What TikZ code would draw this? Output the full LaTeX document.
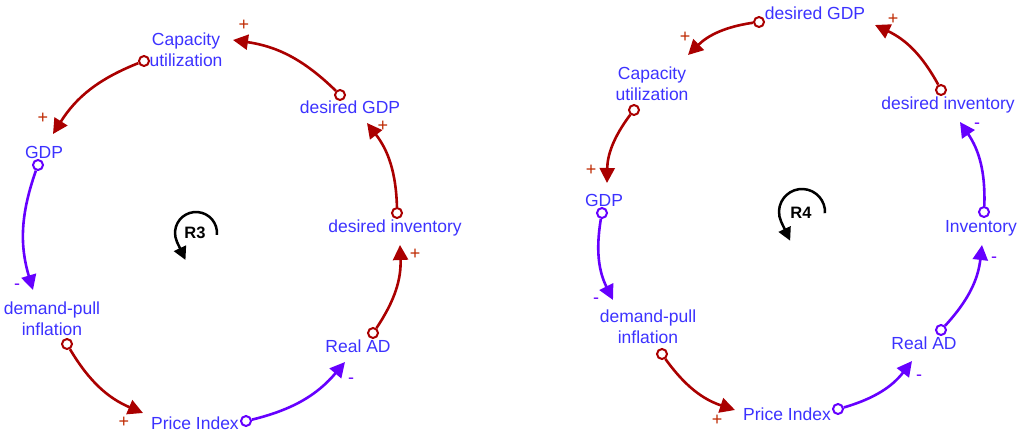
\documentclass[tikz,border=0pt]{standalone}
\usepackage{fontspec}
\setmainfont{Liberation Sans}
\usetikzlibrary{arrows.meta}

\definecolor{linkred}{RGB}{170,0,0}
\definecolor{linkviolet}{RGB}{102,0,255}
\definecolor{varblue}{RGB}{60,50,255}
\definecolor{plusred}{RGB}{190,40,0}

\begin{document}
\begin{tikzpicture}[x=1pt,y=-1pt,
  var/.style={text=varblue, font=\fontsize{17.5}{21}\selectfont, align=center, inner sep=0pt},
  tailbase/.style={circle, fill=white, line width=2pt, minimum size=10pt, inner sep=0pt},
  redtail/.style={tailbase, draw=linkred},
  violettail/.style={tailbase, draw=linkviolet},
  linkbase/.style={line width=2.6pt, -{Triangle[length=15pt,width=15pt]}, bend right=18},
  redlink/.style={linkbase, draw=linkred},
  violetlink/.style={linkbase, draw=linkviolet},
  plus/.style={text=plusred, font=\fontsize{18}{18}\selectfont, inner sep=0pt},
  minus/.style={text=linkviolet, font=\fontsize{18}{18}\selectfont, inner sep=0pt},
  looplabel/.style={font=\fontsize{16.5}{16}\selectfont\bfseries, inner sep=0pt},
  loopline/.style={line width=2.5pt, -{Triangle[length=13pt,width=13pt]}}
]
\useasboundingbox (0,0) rectangle (1017,431);

% ---------------- Loop R3 ----------------
\node[var] (lcap)  at (186,50)  {Capacity\\utilization};
\node[var] (ldgdp) at (350,107) {desired GDP};
\node[var] (lgdp)  at (44,152)  {GDP};
\node[var] (ldpi)  at (52,319)  {demand-pull\\inflation};
\node[var] (lpi)   at (195,423) {Price Index};
\node[var] (lrad)  at (358,346) {Real AD};
\node[var] (ldinv) at (395,228) {desired inventory};

\coordinate (lcap-h)  at (233,40);
\coordinate (lgdp-h)  at (53,134);
\coordinate (ldpi-h)  at (33,290);
\coordinate (lpi-h)   at (143,413);
\coordinate (lrad-h)  at (345,362);
\coordinate (ldinv-h) at (400,245);
\coordinate (ldgdp-h) at (367,123);

\node[redtail]    (ldgdp-t) at (340,95)  {};
\node[redtail]    (lcap-t)  at (144,61)  {};
\node[violettail] (lgdp-t)  at (38,165)  {};
\node[redtail]    (ldpi-t)  at (67,344)  {};
\node[violettail] (lpi-t)   at (246,421) {};
\node[redtail]    (lrad-t)  at (373,333) {};
\node[redtail]    (ldinv-t) at (397,213) {};

\draw[redlink]    (ldgdp-t) to (lcap-h);
\draw[redlink]    (lcap-t)  to (lgdp-h);
\draw[violetlink] (lgdp-t)  to (ldpi-h);
\draw[redlink]    (ldpi-t)  to (lpi-h);
\draw[violetlink] (lpi-t)   to (lrad-h);
\draw[redlink]    (lrad-t)  to (ldinv-h);
\draw[redlink]    (ldinv-t) to (ldgdp-h);

\node[plus]  (lp1) at (244,25)  {+};
\node[plus]  (lp2) at (43,118)  {+};
\node[minus] (lp3) at (17,287)  {-};
\node[plus]  (lp4) at (124,422) {+};
\node[minus] (lp5) at (351,381) {-};
\node[plus]  (lp6) at (415,254) {+};
\node[plus]  (lp7) at (383,126) {+};

\node[looplabel] (r3) at (195,233) {R3};
\draw[loopline] ([shift={(5:21)}]196,233) arc[start angle=5, end angle=-205, radius=21] -- ++(8.5,18.1);

% ---------------- Loop R4 ----------------
\node[var] (rdgdp) at (815,13)  {desired GDP};
\node[var] (rcap)  at (652,84)  {Capacity\\utilization};
\node[var] (rgdp)  at (604,200) {GDP};
\node[var] (rdpi)  at (648,327) {demand-pull\\inflation};
\node[var] (rpi)   at (787,414) {Price Index};
\node[var] (rrad)  at (924,343) {Real AD};
\node[var] (rinv)  at (981,228) {Inventory};
\node[var] (rdinv) at (948,105) {desired inventory};

\coordinate (rcap-h)  at (688,55);
\coordinate (rgdp-h)  at (607,183);
\coordinate (rdpi-h)  at (613,300);
\coordinate (rpi-h)   at (735,410);
\coordinate (rrad-h)  at (912,361);
\coordinate (rinv-h)  at (982,245);
\coordinate (rdinv-h) at (960,122);
\coordinate (rdgdp-h) at (875,25);

\node[redtail]    (rdgdp-t) at (759,22)  {};
\node[redtail]    (rcap-t)  at (634,110) {};
\node[violettail] (rgdp-t)  at (602,213) {};
\node[redtail]    (rdpi-t)  at (662,354) {};
\node[violettail] (rpi-t)   at (838,409) {};
\node[violettail] (rrad-t)  at (941,330) {};
\node[violettail] (rinv-t)  at (984,212) {};
\node[redtail]    (rdinv-t) at (941,90)  {};

\draw[redlink]    (rdgdp-t) to (rcap-h);
\draw[redlink]    (rcap-t)  to (rgdp-h);
\draw[violetlink] (rgdp-t)  to (rdpi-h);
\draw[redlink]    (rdpi-t)  to (rpi-h);
\draw[violetlink] (rpi-t)   to (rrad-h);
\draw[violetlink] (rrad-t)  to (rinv-h);
\draw[violetlink] (rinv-t)  to (rdinv-h);
\draw[redlink]    (rdinv-t) to (rdgdp-h);

\node[plus]  (rp1) at (685,37)  {+};
\node[plus]  (rp2) at (591,170) {+};
\node[minus] (rp3) at (596,301) {-};
\node[plus]  (rp4) at (717,420) {+};
\node[minus] (rp5) at (919,378) {-};
\node[minus] (rp6) at (994,260) {-};
\node[minus] (rp7) at (977,126) {-};
\node[plus]  (rp8) at (893,19)  {+};

\node[looplabel] (r4) at (801,213) {R4};
\draw[loopline] ([shift={(3:23)}]802,212) arc[start angle=3, end angle=-205, radius=23] -- ++(9,19);
\end{tikzpicture}
\end{document}
